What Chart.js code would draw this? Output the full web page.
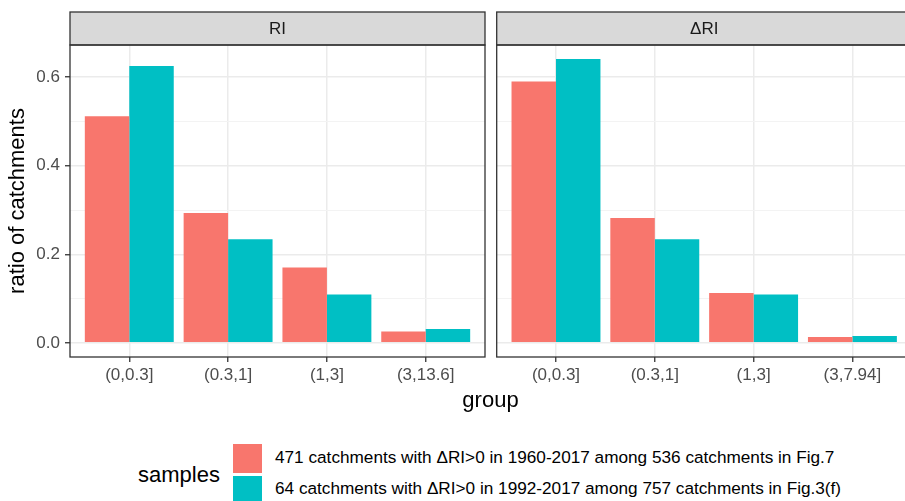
<!DOCTYPE html>
<html>
<head>
<meta charset="utf-8">
<script src="https://cdn.jsdelivr.net/npm/chart.js@4.4.1/dist/chart.umd.min.js"></script>
<style>
    body {
        margin: 0;
        width: 905px;
        height: 501px;
        overflow: hidden;
        background: #fff;
        position: relative;
        font-family: "Liberation Sans", Arial, sans-serif;
    }
    canvas { position: absolute; top: 0; }
    .txt { position: absolute; white-space: nowrap; color: #000; }
    .chave { position: absolute; left: 233px; width: 29px; height: 29px; }
</style>
</head>
<body>
<canvas id="painelRI" width="490" height="400" style="left:0"></canvas>
<canvas id="painelDeltaRI" width="425" height="400" style="left:490px"></canvas>

<div class="txt" id="tituloX" style="left:0; width:981px; text-align:center; top:389px; font-size:22px; line-height:22px;">group</div>
<div class="txt" id="tituloLegenda" style="left:138px; top:464px; font-size:22px; line-height:22px;">samples</div>
<div class="chave" id="chave0" style="top:444px;"></div>
<div class="chave" id="chave1" style="top:476px;"></div>
<div class="txt" id="rotulo0" style="left:275px; top:449px; font-size:17.2px; line-height:17px;"></div>
<div class="txt" id="rotulo1" style="left:275px; top:480px; font-size:17.2px; line-height:17px;"></div>

<script>
// categorias de cada painel
const categoriasRI = ["(0,0.3]", "(0.3,1]", "(1,3]", "(3,13.6]"];
const categoriasDeltaRI = ["(0,0.3]", "(0.3,1]", "(1,3]", "(3,7.94]"];

// razao de bacias por grupo
const ri1960 = [0.512, 0.293, 0.170, 0.0255];
const ri1992 = [0.625, 0.234, 0.109, 0.031];
const deltaRi1960 = [0.590, 0.282, 0.1125, 0.013];
const deltaRi1992 = [0.641, 0.234, 0.109, 0.0156];

const nomesSeries = [
    "471 catchments with \u0394RI>0 in 1960-2017 among 536 catchments in Fig.7",
    "64 catchments with \u0394RI>0 in 1992-2017 among 757 catchments in Fig.3(f)"
];
const coresSeries = ["#F8766D", "#00BFC4"];
const ticksY = [0, 0.1, 0.2, 0.3, 0.4, 0.5, 0.6];

const FONTE = "'Liberation Sans', Arial, sans-serif";

// faixa cinza do facet e borda do painel
const faixaPainel = {
    id: "faixaPainel",
    afterDraw(chart, args, opts) {
        const { ctx, chartArea } = chart;
        const { left, right, top, bottom } = chartArea;
        ctx.save();
        ctx.fillStyle = "#d9d9d9";
        ctx.fillRect(left, 12, right - left, top - 12);
        ctx.strokeStyle = "#333333";
        ctx.lineWidth = 1.3;
        ctx.strokeRect(left, 12, right - left, top - 12);
        ctx.strokeRect(left, top, right - left, bottom - top);
        ctx.fillStyle = "#1a1a1a";
        ctx.font = "17px " + FONTE;
        ctx.textAlign = "center";
        ctx.textBaseline = "middle";
        ctx.fillText(opts.texto, (left + right) / 2, (12 + top) / 2 + 1);
        ctx.restore();
    }
};

function ehMenor(v) {
    return Math.round(v * 10) % 2 === 1;
}

function criarPainel(id, categorias, serieA, serieB, texto, mostrarEixoY, padding) {
    const ctx = document.getElementById(id).getContext("2d");

    return new Chart(ctx, {
        type: "bar",
        data: {
            datasets: [
                {
                    label: nomesSeries[0],
                    data: serieA.map((v, i) => ({ x: i + 1, y: v })),
                    backgroundColor: coresSeries[0],
                    borderWidth: 0
                },
                {
                    label: nomesSeries[1],
                    data: serieB.map((v, i) => ({ x: i + 1, y: v })),
                    backgroundColor: coresSeries[1],
                    borderWidth: 0
                }
            ]
        },
        plugins: [faixaPainel],
        options: {
            responsive: false,
            animation: false,
            layout: { padding: padding },
            categoryPercentage: 0.9,
            barPercentage: 1.0,
            plugins: {
                legend: { display: false },
                tooltip: { enabled: false },
                faixaPainel: { texto: texto }
            },
            scales: {
                x: {
                    type: "linear",
                    min: 0.4,
                    max: 4.6,
                    offset: false,
                    afterBuildTicks: (axis) => {
                        axis.ticks = categorias.map((c, i) => ({ value: i + 1 }));
                    },
                    afterFit: (axis) => { axis.height = 43; },
                    border: { display: false },
                    grid: {
                        offset: false,
                        color: "#ebebeb",
                        lineWidth: 1.5,
                        tickColor: "#333333",
                        tickWidth: 1.3,
                        tickLength: 5
                    },
                    ticks: {
                        color: "#4d4d4d",
                        font: { size: 17, family: FONTE },
                        padding: 3,
                        maxRotation: 0,
                        autoSkip: false,
                        callback: (value, index) => categorias[index]
                    }
                },
                y: {
                    min: -0.032,
                    max: 0.6727,
                    afterBuildTicks: (axis) => {
                        axis.ticks = ticksY.map(v => ({ value: v }));
                    },
                    afterFit: (axis) => { axis.width = mostrarEixoY ? 70 : 0; },
                    border: { display: false },
                    grid: {
                        color: (c) => ehMenor(c.tick.value) ? "#f3f3f3" : "#ebebeb",
                        lineWidth: (c) => ehMenor(c.tick.value) ? 1 : 1.5,
                        drawTicks: mostrarEixoY,
                        tickColor: (c) => ehMenor(c.tick.value) ? "rgba(0,0,0,0)" : "#333333",
                        tickWidth: 1.3,
                        tickLength: 5
                    },
                    ticks: {
                        display: mostrarEixoY,
                        color: "#4d4d4d",
                        font: { size: 17, family: FONTE },
                        padding: 5,
                        autoSkip: false,
                        callback: (value) => ehMenor(value) ? "" : value.toFixed(1)
                    },
                    title: {
                        display: mostrarEixoY,
                        text: "ratio of catchments",
                        color: "#000",
                        font: { size: 22, family: FONTE },
                        padding: { top: 5, bottom: 0 }
                    }
                }
            }
        }
    });
}

// legenda montada em html
function montarLegenda() {
    nomesSeries.forEach((nome, i) => {
        document.getElementById(`chave${i}`).style.background = coresSeries[i];
        document.getElementById(`rotulo${i}`).textContent = nome;
    });
}

criarPainel("painelRI", categoriasRI, ri1960, ri1992, "RI", true,
    { top: 45, left: 0, right: 5, bottom: 0 });
criarPainel("painelDeltaRI", categoriasDeltaRI, deltaRi1960, deltaRi1992, "\u0394RI", false,
    { top: 45, left: 6.7, right: 3.3, bottom: 0 });
montarLegenda();
</script>
</body>
</html>
